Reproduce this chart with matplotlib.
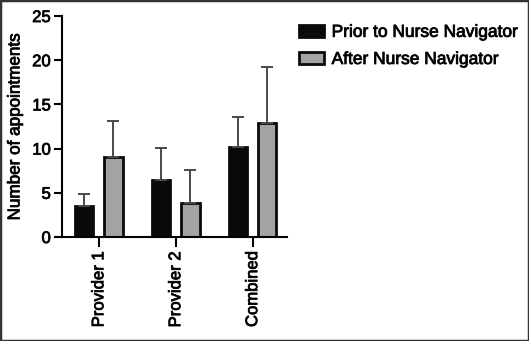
import numpy as np
import matplotlib.pyplot as plt
import matplotlib.patheffects as pe
from matplotlib.patches import Rectangle

plt.rcParams['font.family'] = ['Liberation Sans', 'DejaVu Sans']

categories = ['Provider 1', 'Provider 2', 'Combined']
prior = [3.5, 6.5, 10.2]
prior_err = [1.4, 3.6, 3.4]
after = [9.0, 3.9, 12.9]
after_err = [4.1, 3.7, 6.3]
series_names = ['Prior to Nurse Navigator', 'After Nurse Navigator']

# slight stroke to mimic the heavier text of the original
heavy = [pe.withStroke(linewidth=0.6, foreground='#111111')]

fig = plt.figure(figsize=(5.29, 3.41), dpi=100)
ax = fig.add_axes([0.117, 0.305, 0.426, 0.648])

x = np.arange(len(categories))
w = 0.24
off = 0.19
ekw = dict(ecolor='#4a4a4a', elinewidth=1.4, capsize=4, capthick=1.4)
ax.bar(x - off, prior, w, color='#0a0a0a', edgecolor='#0a0a0a', linewidth=2,
       yerr=[np.zeros(3), prior_err], error_kw=ekw, label=series_names[0], zorder=2)
ax.bar(x + off, after, w, color='#a3a3a3', edgecolor='#0a0a0a', linewidth=2,
       yerr=[np.zeros(3), after_err], error_kw=ekw, label=series_names[1], zorder=2)

ax.set_xlim(-0.48, 2.45)
ax.set_ylim(0, 25)
ax.set_yticks([0, 5, 10, 15, 20, 25])
ax.set_xticks(x)
ax.set_xticklabels(categories, rotation=90, fontsize=12)
ax.tick_params(axis='y', labelsize=12, width=1.5, length=6, pad=2)
ax.tick_params(axis='x', width=1.5, length=7, pad=3)
ax.set_ylabel('Number of appointments', fontsize=12.3, labelpad=7)
for s in ['top', 'right']:
    ax.spines[s].set_visible(False)
for s in ['left', 'bottom']:
    ax.spines[s].set_linewidth(1.5)

handles, labels = ax.get_legend_handles_labels()
leg = fig.legend(handles, labels, loc='upper left', bbox_to_anchor=(0.535, 0.973),
                 frameon=False, fontsize=12.5, handlelength=1.45, handleheight=0.65,
                 labelspacing=0.7, handletextpad=0.45)

for t in ax.get_xticklabels() + ax.get_yticklabels() + leg.get_texts() + [ax.yaxis.label]:
    t.set_path_effects(heavy)

fig.patches.append(Rectangle((0, 0), 1, 1, transform=fig.transFigure, fill=False,
                             edgecolor='#333333', linewidth=2.5))

fig.savefig('out.png', dpi=100)
